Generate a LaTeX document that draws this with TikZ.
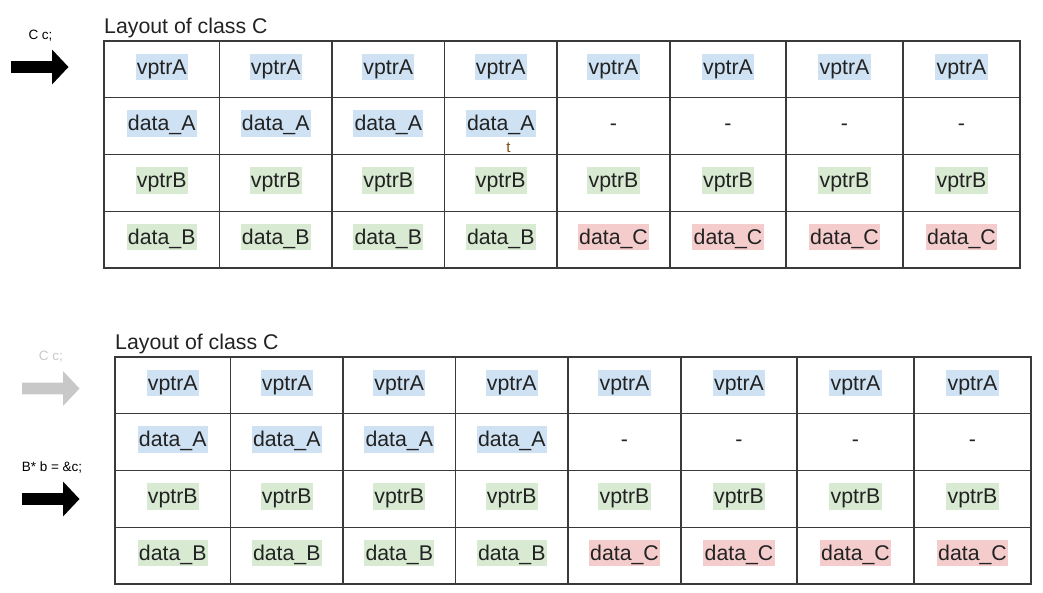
\documentclass[tikz,border=0pt]{standalone}
\usepackage{fontspec}
\setmainfont{Liberation Sans}
\usepackage{tikz}
\usepackage{xcolor}
\definecolor{hlblue}{HTML}{CFE2F3}
\definecolor{hlgreen}{HTML}{D9EAD3}
\definecolor{hlred}{HTML}{F4CCCC}
\definecolor{gridgray}{HTML}{3A3A3A}
\definecolor{ink}{HTML}{222222}
\definecolor{fadegray}{HTML}{C8C8C8}
\definecolor{cursorbrown}{HTML}{7A4A10}

\tikzset{
  cell/.style={font=\fontsize{21.3}{24}\selectfont,text=ink,inner xsep=1.2pt,inner ysep=0.5pt,
    text height=20pt,text depth=5.5pt,anchor=base},
  title/.style={font=\fontsize{21.3}{24}\selectfont,text=ink,inner sep=0pt,anchor=base west},
  codelabel/.style={font=\fontsize{13.5}{15}\selectfont,inner sep=0pt},
  gridline/.style={gridgray,line width=1.1pt},
  fatarrow/.pic={\fill[pic actions] (0,-5.8) -- (41,-5.8) -- (41,-17.5) -- (57.5,0)
    -- (41,17.5) -- (41,5.8) -- (0,5.8) -- cycle;}
}

\begin{document}
\begin{tikzpicture}[x=1pt,y=-1pt]
    \useasboundingbox (0,0) rectangle (1043,592);
    % the two copies of the table, the second one shifted
    \foreach \tab/\dx/\dy in {top/0/0,bot/11/316}{
      \begin{scope}[shift={(\dx,\dy)}]
        \node[title] (\tab-title) at (104,33) {Layout of class C};
        \foreach \xl/\xr [count=\c] in {104/219.5,219.5/332,332/444.5,444.5/557,557/670,670/786,786/903,903/1020}{
          \pgfmathsetmacro{\xm}{(\xl+\xr)/2}
          \node[cell,fill=hlblue] (\tab-1-\c) at (\xm,74) {vptrA};
          \ifnum\c<5
            \node[cell,fill=hlblue] (\tab-2-\c) at (\xm,130.75) {data\_A};
          \else
            \node[cell] (\tab-2-\c) at (\xm,130.75) {-};
          \fi
          \node[cell,fill=hlgreen] (\tab-3-\c) at (\xm,187.5) {vptrB};
          \ifnum\c<5
            \node[cell,fill=hlgreen] (\tab-4-\c) at (\xm,244.25) {data\_B};
          \else
            \node[cell,fill=hlred] (\tab-4-\c) at (\xm,244.25) {data\_C};
          \fi
        }
        \draw[gridline] (104,41) rectangle (1020,268);
        \foreach \x in {219.5,332,444.5,557,670,786,903}
          \draw[gridline] (\x,41) -- (\x,268);
        \foreach \y in {97.75,154.5,211.25}
          \draw[gridline] (104,\y) -- (1020,\y);
      \end{scope}
    }
    \node[font=\fontsize{15}{16}\selectfont,text=cursorbrown,inner sep=0pt,anchor=base] (cursor) at (508.5,152.5) {t};
    % pointers on the left
    \node[codelabel,text=black] (lblC) at (40.5,36) {C c;};
    \pic[fill=black] (arrC) at (11,67) {fatarrow};
    \node[codelabel,text=fadegray] (lblCfade) at (51,356.5) {C c;};
    \pic[fill=fadegray] (arrCfade) at (22,388.5) {fatarrow};
    \node[codelabel,text=black] (lblB) at (52,467.5) {B* b = \&c;};
    \pic[fill=black] (arrB) at (22,499) {fatarrow};
\end{tikzpicture}
\end{document}
